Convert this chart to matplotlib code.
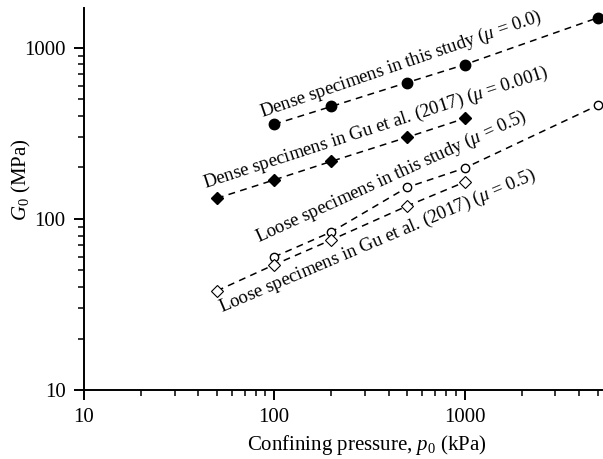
import matplotlib
matplotlib.use('Agg')
import matplotlib.pyplot as plt
from matplotlib.ticker import LogLocator, NullFormatter

plt.rcParams['font.family'] = ['Liberation Serif', 'DejaVu Serif']
plt.rcParams['mathtext.fontset'] = 'custom'
plt.rcParams['mathtext.rm'] = 'Liberation Serif'
plt.rcParams['mathtext.it'] = 'Liberation Serif:italic'

# data
p_dense_this = [100, 200, 500, 1000, 5000]
g_dense_this = [357, 454, 626, 796, 1494]
p_dense_gu = [50, 100, 200, 500, 1000]
g_dense_gu = [132, 169, 217, 300, 386]
p_loose_this = [100, 200, 500, 1000, 5000]
g_loose_this = [60, 84, 153, 198, 460]
p_loose_gu = [50, 100, 200, 500, 1000]
g_loose_gu = [38, 54, 75.5, 119, 164]

fig = plt.figure(figsize=(6.03, 4.59), dpi=100)
ax = fig.add_axes([0.139, 0.150, 0.86, 0.833])

dash = dict(ls=(0, (4.5, 3.5)), lw=1.1, color='black')
ax.plot(p_dense_this, g_dense_this, marker='o', ms=7.5, mfc='black', mec='black', **dash)
ax.plot(p_dense_gu, g_dense_gu, marker='D', ms=6.5, mfc='black', mec='black', **dash)
ax.plot(p_loose_this, g_loose_this, marker='o', ms=6, mfc='white', mec='black', mew=1, **dash)
ax.plot(p_loose_gu, g_loose_gu, marker='D', ms=6, mfc='white', mec='black', mew=0.8, **dash)

txt = dict(fontsize=13.5, rotation_mode='anchor', ha='left', va='baseline')
ax.text(86.5, 394, r'Dense specimens in this study ($\mu$ = 0.0)', rotation=19, **txt)
ax.text(43.4, 152, r'Dense specimens in Gu et al. (2017) ($\mu$ = 0.001)', rotation=18, **txt)
ax.text(82.4, 73.3, r'Loose specimens in this study ($\mu$ = 0.5)', rotation=24.5, **txt)
ax.text(53.2, 28.6, r'Loose specimens in Gu et al. (2017) ($\mu$ = 0.5)', rotation=23, **txt)

ax.set_xscale('log')
ax.set_yscale('log')
ax.set_xlim(10, 5300)
ax.set_ylim(10, 1710)
ax.set_xticks([10, 100, 1000])
ax.set_xticklabels(['10', '100', '1000'])
ax.set_yticks([10, 100, 1000])
ax.set_yticklabels(['10', '100', '1000'])
ax.xaxis.set_minor_locator(LogLocator(base=10, subs=range(2, 10)))
ax.yaxis.set_minor_locator(LogLocator(base=10, subs=range(2, 10)))
ax.xaxis.set_minor_formatter(NullFormatter())
ax.yaxis.set_minor_formatter(NullFormatter())

for s in ['top', 'right']:
    ax.spines[s].set_visible(False)
for s in ['left', 'bottom']:
    ax.spines[s].set_linewidth(1.4)
ax.tick_params(which='major', direction='out', length=7, width=1.4, labelsize=15, pad=6)
ax.tick_params(which='minor', direction='out', length=4, width=1.1)

ax.set_xlabel(r'Confining pressure, $p_0$ (kPa)', fontsize=15, labelpad=4)
ax.xaxis.label.set_x(0.546)
ax.set_ylabel(r'$G_0$ (MPa)', fontsize=15)
ax.yaxis.set_label_coords(-0.098, 0.55)

fig.savefig('out.png', dpi=100)
